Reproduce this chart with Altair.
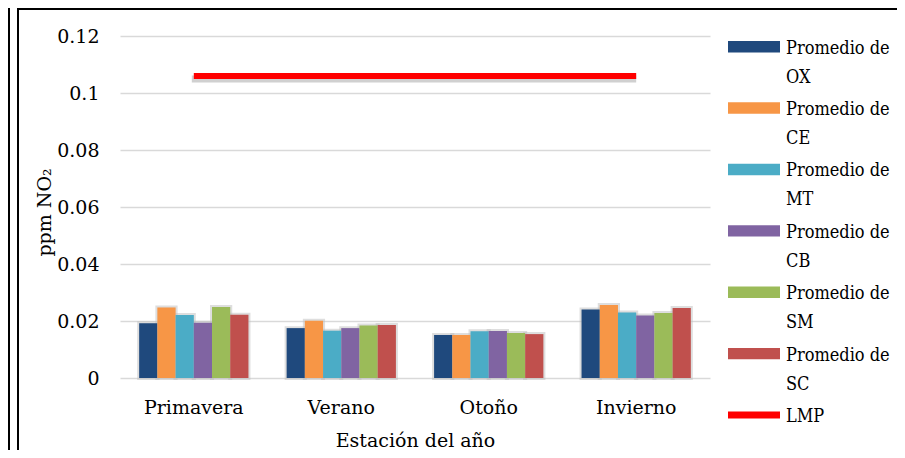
import altair as alt
import pandas as pd

seasons = ["Primavera", "Verano", "Otoño", "Invierno"]
series = ["OX", "CE", "MT", "CB", "SM", "SC"]
OX = [0.0192, 0.0175, 0.0151, 0.0240]
CE = [0.0247, 0.0201, 0.0151, 0.0256]
MT = [0.0221, 0.0166, 0.0164, 0.0230]
CB = [0.0194, 0.0175, 0.0165, 0.0219]
SM = [0.0249, 0.0184, 0.0158, 0.0228]
SC = [0.0222, 0.0186, 0.0154, 0.0246]
lmp_value = 0.106
y_ticks = [0, 0.02, 0.04, 0.06, 0.08, 0.1, 0.12]
colors = ["#1F497D", "#F79646", "#4BACC6", "#8064A2", "#9BBB59", "#C0504D", "#FF0000"]

rows = []
for s, vals in zip(series, [OX, CE, MT, CB, SM, SC]):
    for season, v in zip(seasons, vals):
        rows.append({"season": season, "serie": s, "value": v})
bars_df = pd.DataFrame(rows)
lmp_df = pd.DataFrame({"start": [seasons[0]], "end": [seasons[-1]],
                       "value": [lmp_value], "serie": ["LMP"]})
legend_names = series + ["LMP"]
legend_labels = [f"Promedio de\n{s}" for s in series] + ["LMP"]
legend_df = pd.DataFrame({"serie": legend_names, "label": legend_labels})
one_df = pd.DataFrame({"a": [0]})

FONT = "DejaVu Serif"
FONT_LEG = "DejaVu Serif Condensed, DejaVu Serif"
FS = 19
FS_LEG = 18
color_scale = alt.Scale(domain=legend_names, range=colors)
x_scale = alt.Scale(domain=seasons, paddingInner=0.259, paddingOuter=0.13)
off_scale = alt.Scale(domain=series, paddingInner=0, paddingOuter=0)

x_axis = alt.Axis(title="Estación del año", labelAngle=0, grid=False,
                  labelPadding=20, titleY=68, titleX=295,
                  titleBaseline="alphabetic")
y_axis = alt.Axis(values=y_ticks, format="~g", title="ppm NO₂",
                  labelPadding=21, titleX=-70, titleY=176,
                  titleAngle=-90, titleBaseline="alphabetic",
                  titleAlign="center")
y_scale = alt.Scale(domain=[0, 0.12], nice=False)

bar_shadow = alt.Chart(bars_df).mark_bar(
    stroke="#bdbdbd", strokeWidth=4, strokeOpacity=0.5, fill="#d9d9d9", fillOpacity=0.5
).encode(
    x=alt.X("season:N", scale=x_scale, axis=x_axis),
    xOffset=alt.XOffset("serie:N", scale=off_scale),
    y=alt.Y("value:Q", scale=y_scale, axis=y_axis),
)

bars = alt.Chart(bars_df).mark_bar().encode(
    x=alt.X("season:N", scale=x_scale, axis=x_axis),
    xOffset=alt.XOffset("serie:N", scale=off_scale),
    y=alt.Y("value:Q", scale=y_scale, axis=y_axis),
    color=alt.Color("serie:N", scale=color_scale, legend=None),
)

lmp_shadow = alt.Chart(lmp_df).mark_rule(
    strokeWidth=7, color="#b0b0b0", opacity=0.6, yOffset=3, xOffset=-2
).encode(
    x=alt.X("start:N", scale=x_scale), x2="end:N", y="value:Q"
)
lmp = alt.Chart(lmp_df).mark_rule(strokeWidth=6).encode(
    x=alt.X("start:N", scale=x_scale), x2="end:N", y="value:Q",
    color=alt.Color("serie:N", scale=color_scale, legend=None),
)

frame_outer = alt.Chart(one_df).mark_rule(color="black", strokeWidth=2).encode(
    x=alt.value(-111), y=alt.value(-28), y2=alt.value(414))
frame_inner = alt.Chart(one_df).mark_rule(color="black", strokeWidth=2).encode(
    x=alt.value(-102), y=alt.value(-28), y2=alt.value(414))
frame_top = alt.Chart(one_df).mark_rule(color="black", strokeWidth=2).encode(
    x=alt.value(-103), x2=alt.value(777), y=alt.value(-27))

main = alt.layer(frame_outer, frame_inner, frame_top, bar_shadow, bars, lmp_shadow, lmp)

rect_path = "M-1,-0.22H1V0.22H-1Z"
line_path = "M-1,-0.135H1V0.135H-1Z"
leg_y = alt.Y("serie:N", sort=legend_names,
              scale=alt.Scale(type="point", domain=legend_names,
                              range=[10.7, 379], padding=0),
              axis=None)
leg_sym = alt.Chart(legend_df).mark_point(filled=True, opacity=1, size=2704).encode(
    x=alt.value(634),
    y=leg_y,
    color=alt.Color("serie:N", scale=color_scale, legend=None),
    shape=alt.Shape("serie:N", scale=alt.Scale(domain=legend_names,
                                               range=[rect_path] * 6 + [line_path]),
                    legend=None),
)
leg_text = alt.Chart(legend_df).mark_text(
    align="left", baseline="alphabetic", dy=7, lineBreak="\n", lineHeight=29,
    font=FONT_LEG, fontSize=FS_LEG, color="black"
).encode(x=alt.value(666), y=leg_y, text="label:N")

legend = alt.layer(leg_sym, leg_text)

chart = alt.layer(main, legend).resolve_scale(y="independent").properties(
    width=590, height=342,
    padding={"left": 112, "top": 28, "right": 187, "bottom": 72},
    autosize=alt.AutoSizeParams(type="none"),
    background="white",
).configure_view(stroke=None).configure_axis(
    labelFont=FONT, labelFontSize=FS, titleFont=FONT, titleFontSize=FS,
    labelColor="black", titleColor="black", titleFontWeight="normal",
    domain=False, ticks=False, gridColor="#d9d9d9", gridWidth=1.5,
)

chart.save("out.html", embed_options={"renderer": "svg", "actions": False})
